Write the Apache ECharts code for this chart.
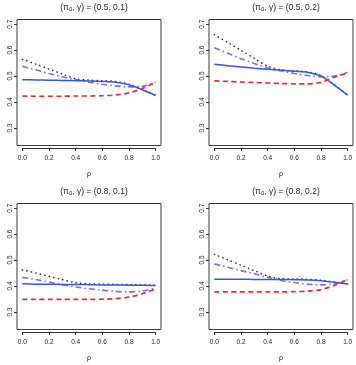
<!DOCTYPE html>
<html>
<head>
<meta charset="utf-8">
<script src="https://cdn.jsdelivr.net/npm/echarts@6/dist/echarts.min.js"></script>
<style>
  html, body { margin: 0; padding: 0; background: #fff; }
  #main { width: 356px; height: 365px; }
</style>
</head>
<body>
<div id="main"></div>
<script>
// rho grid (x values) and panel parameters
var rho = [0, 0.1, 0.2, 0.3, 0.4, 0.5, 0.6, 0.7, 0.8, 0.9, 1.0];
var panelParams = ['(0.5, 0.1)', '(0.5, 0.2)', '(0.8, 0.1)', '(0.8, 0.2)'];

// panel 1 : (pi0, gamma) = (0.5, 0.1)
var p1Dotted  = [0.564, 0.546, 0.527, 0.508, 0.489, 0.484, 0.482, 0.479, 0.468, 0.448, 0.426];
var p1DotDash = [0.538, 0.524, 0.510, 0.497, 0.486, 0.476, 0.468, 0.462, 0.458, 0.460, 0.476];
var p1Solid   = [0.486, 0.485, 0.484, 0.483, 0.482, 0.481, 0.479, 0.476, 0.466, 0.447, 0.425];
var p1Dashed  = [0.423, 0.422, 0.422, 0.422, 0.423, 0.423, 0.424, 0.427, 0.435, 0.452, 0.476];

// panel 2 : (0.5, 0.2)
var p2Dotted  = [0.660, 0.629, 0.599, 0.568, 0.538, 0.524, 0.520, 0.516, 0.502, 0.466, 0.427];
var p2DotDash = [0.609, 0.588, 0.567, 0.548, 0.532, 0.520, 0.510, 0.502, 0.497, 0.500, 0.514];
var p2Solid   = [0.545, 0.540, 0.535, 0.530, 0.526, 0.522, 0.518, 0.514, 0.500, 0.465, 0.426];
var p2Dashed  = [0.481, 0.479, 0.477, 0.475, 0.473, 0.471, 0.470, 0.470, 0.476, 0.495, 0.512];

// panel 3 : (0.8, 0.1)
var p3Dotted  = [0.462, 0.450, 0.437, 0.424, 0.412, 0.408, 0.407, 0.406, 0.405, 0.404, 0.403];
var p3DotDash = [0.433, 0.425, 0.415, 0.405, 0.396, 0.389, 0.384, 0.379, 0.377, 0.381, 0.392];
var p3Solid   = [0.408, 0.407, 0.407, 0.406, 0.406, 0.405, 0.404, 0.404, 0.403, 0.403, 0.402];
var p3Dashed  = [0.348, 0.348, 0.348, 0.348, 0.348, 0.348, 0.349, 0.351, 0.357, 0.370, 0.388];

// panel 4 : (0.8, 0.2)
var p4Dotted  = [0.522, 0.501, 0.480, 0.459, 0.438, 0.428, 0.427, 0.426, 0.422, 0.415, 0.408];
var p4DotDash = [0.485, 0.472, 0.459, 0.447, 0.433, 0.421, 0.413, 0.407, 0.404, 0.408, 0.424];
var p4Solid   = [0.426, 0.426, 0.426, 0.425, 0.425, 0.425, 0.424, 0.423, 0.420, 0.414, 0.407];
var p4Dashed  = [0.377, 0.377, 0.377, 0.377, 0.377, 0.377, 0.378, 0.380, 0.386, 0.402, 0.425];

var panelData = [
	[p1Dotted, p1DotDash, p1Solid, p1Dashed],
	[p2Dotted, p2DotDash, p2Solid, p2Dashed],
	[p3Dotted, p3DotDash, p3Solid, p3Dashed],
	[p4Dotted, p4DotDash, p4Solid, p4Dashed]
];

var FONT = "'Liberation Sans', Arial, sans-serif";
var boxW = 144, boxH = 126;
var panelLeft = [17, 209, 17, 209];
var panelTop = [19.5, 19.5, 203.5, 203.5];
// R style 4% range extension: x [0,1] -> [-0.04,1.04], y [0.25,0.7] -> [0.232,0.718]
var xMin = -0.04, xMax = 1.04, yMin = 0.232, yMax = 0.718;

var grids = [], xAxes = [], yAxes = [], series = [], titles = [];

// line styles: dotted black, dot-dash purple, solid blue, dashed red
var styles = [
	{ color: '#2a2a2a', width: 1.5, type: [0.3, 4.3], cap: 'round' },
	{ color: '#8766f5', width: 1.6, type: [6, 3, 1.5, 3], cap: 'butt' },
	{ color: '#3158ec', width: 1.5, type: 'solid', cap: 'butt' },
	{ color: '#ee2a2a', width: 1.7, type: [5, 3.5], cap: 'butt' }
];
// dotted under the solid line so the merged stretch stays blue
var drawOrder = [0, 1, 2, 3];

for (var p = 0; p < 4; p++) {
	var L = panelLeft[p], T = panelTop[p];
	// box grid holding the data
	grids.push({ left: L, top: T, width: boxW, height: boxH, show: true,
		borderColor: '#3a3a3a', borderWidth: 1, backgroundColor: 'transparent' });
	xAxes.push({ gridIndex: p * 2, type: 'value', min: xMin, max: xMax, show: false });
	yAxes.push({ gridIndex: p * 2, type: 'value', min: yMin, max: yMax, show: false });

	// axis grid spanning only the tick range, like R's axis()
	var ax0 = L + boxW * (0 - xMin) / (xMax - xMin);
	var axW = boxW * 1 / (xMax - xMin);
	var ayT = T + boxH * (yMax - 0.7) / (yMax - yMin);
	var ayH = boxH * 0.4 / (yMax - yMin);
	grids.push({ left: ax0, top: ayT, width: axW, height: ayH, show: false });
	xAxes.push({
		gridIndex: p * 2 + 1, type: 'value', min: 0, max: 1, interval: 0.2,
		position: 'bottom', offset: (T + boxH) - (ayT + ayH) + 2.5,
		axisLine: { show: true, onZero: false, lineStyle: { color: '#333', width: 1 } },
		axisTick: { show: true, length: 3, lineStyle: { color: '#333' } },
		axisLabel: { fontSize: 6.5, color: '#222', margin: 7, fontFamily: FONT,
			formatter: function (v) { return v.toFixed(1); } },
		splitLine: { show: false },
		name: 'ρ', nameLocation: 'middle', nameGap: 23,
		nameTextStyle: { fontSize: 7, color: '#222', fontFamily: FONT }
	});
	yAxes.push({
		gridIndex: p * 2 + 1, type: 'value', min: 0.3, max: 0.7, interval: 0.1,
		position: 'left', offset: (ax0 - L),
		axisLine: { show: false, onZero: false },
		axisTick: { show: true, length: 3, lineStyle: { color: '#333' } },
		axisLabel: { fontSize: 6.5, color: '#222', margin: 3, rotate: 90, fontFamily: FONT,
			formatter: function (v) { return v.toFixed(1); } },
		splitLine: { show: false }
	});

	titles.push({
		text: '(π{sub|0}, γ) = ' + panelParams[p],
		left: L + boxW / 2, top: T - 22, textAlign: 'center',
		textStyle: { fontSize: 8.5, fontWeight: 'normal', color: '#222', fontFamily: FONT,
			rich: { sub: { fontSize: 6, fontFamily: FONT, color: '#222', padding: [4, 0, 0, 0] } } }
	});

	for (var k = 0; k < drawOrder.length; k++) {
		var s = drawOrder[k];
		var vals = panelData[p][s];
		series.push({
			type: 'line', xAxisIndex: p * 2, yAxisIndex: p * 2,
			data: rho.map(function (r, i) { return [r, vals[i]]; }),
			showSymbol: false, smooth: 0.3, silent: true,
			lineStyle: { color: styles[s].color, width: styles[s].width,
				type: styles[s].type, cap: styles[s].cap }
		});
	}
}

var chart = echarts.init(document.getElementById('main'), null, { renderer: 'canvas' });
chart.setOption({
	animation: false,
	backgroundColor: '#fff',
	title: titles,
	grid: grids,
	xAxis: xAxes,
	yAxis: yAxes,
	series: series
});
</script>
</body>
</html>
